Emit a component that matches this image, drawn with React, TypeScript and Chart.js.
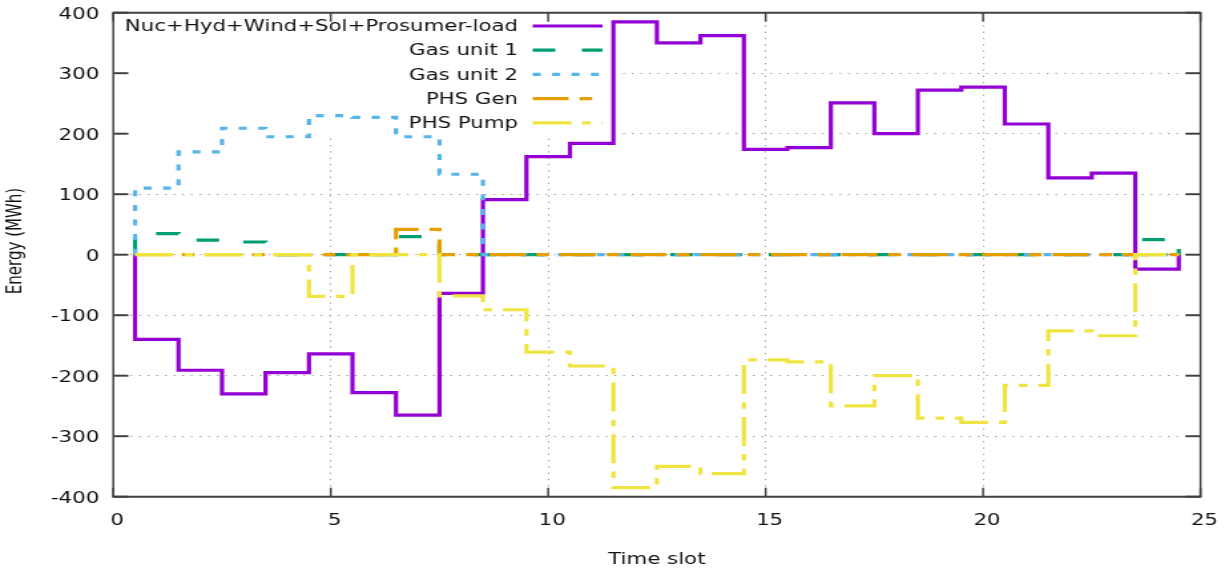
import React, { useEffect, useRef } from 'react';
import { Chart, registerables } from 'chart.js';

Chart.register(...registerables);

// ---------------- data ----------------
const SLOTS = [1, 2, 3, 4, 5, 6, 7, 8, 9, 10, 11, 12, 13, 14, 15, 16, 17, 18, 19, 20, 21, 22, 23, 24];

const NET_LOAD = [-140, -191, -230, -195, -164, -228, -265, -64, 91, 162, 184, 385, 350, 362, 174, 177, 251, 200, 272, 277, 216, 127, 135, -24];
const GAS_UNIT_1 = [35, 24, 21, 0, 0, 0, 30, 0, 0, 0, 0, 0, 0, 0, 0, 0, 0, 0, 0, 0, 0, 0, 0, 25];
const GAS_UNIT_2 = [110, 170, 209, 195, 230, 227, 195, 133, 0, 0, 0, 0, 0, 0, 0, 0, 0, 0, 0, 0, 0, 0, 0, 0];
const PHS_GEN = [0, 0, 0, 0, 0, 0, 42, 0, 0, 0, 0, 0, 0, 0, 0, 0, 0, 0, 0, 0, 0, 0, 0, 0];
const PHS_PUMP = [0, 0, 0, 0, -69, 0, 0, -68, -91, -161, -184, -385, -350, -362, -174, -177, -250, -200, -270, -277, -216, -126, -134, 0];

const SERIES_LABELS = ['Nuc+Hyd+Wind+Sol+Prosumer-load', 'Gas unit 1', 'Gas unit 2', 'PHS Gen', 'PHS Pump'];
const SERIES_COLORS = ['#9400d3', '#009e73', '#56b4e9', '#e69f00', '#f0e442'];

const X_MIN = 0;
const X_MAX = 25;
const X_STEP = 5;
const Y_MIN = -400;
const Y_MAX = 400;
const Y_STEP = 100;

const X_TITLE = 'Time slot';
const Y_TITLE = 'Energy (MWh)';

// ---------------- layout (screen px -> canvas px; canvas is stretched horizontally) ----------------
const SCREEN_W = 1225;
const SCREEN_H = 572;
const CANVAS_W = 921;
const SX = SCREEN_W / CANVAS_W;
const cx = (screenX: number) => screenX / SX;

const FONT = "'DejaVu Sans', Verdana, sans-serif";
const FRAME_COLOR = '#404040';
const GRID_COLOR = '#9a9a9a';

const AREA_LEFT = cx(113.3);
const AREA_RIGHT = cx(1200.5);
const AREA_TOP = 12.7;
const AREA_BOTTOM = 496.7;

const KEY_BOX_RIGHT = cx(619);
const KEY_BOX_BOTTOM = 137;
const KEY_TEXT_RIGHT = cx(518);
const KEY_SAMPLE_X1 = cx(532.7);
const KEY_SAMPLE_X2 = cx(602.5);
const KEY_FIRST_Y = 26;
const KEY_ROW = 24.2;

const Y_TICK_LEN = cx(15);
const X_TICK_LEN = 9;
const LINE_W = 3.2;

const DASHES: number[][] = [
  [],
  [17, 20],
  [6, 8.6],
  [27, 8.2, 9.5, 8.2],
  [29, 8.2, 6.5, 8.2],
];

function histeps(values: number[]) {
  const pts: { x: number; y: number }[] = [{ x: SLOTS[0] - 0.5, y: 0 }];
  values.forEach((v, i) => pts.push({ x: SLOTS[i] - 0.5, y: v }));
  pts.push({ x: SLOTS[SLOTS.length - 1] + 0.5, y: 0 });
  return pts;
}

const decoPlugin = {
  id: 'gnuplotDeco',
  beforeDatasetsDraw(chart: any) {
    const { ctx, chartArea: a } = chart;
    ctx.save();
    ctx.fillStyle = '#ffffff';
    ctx.fillRect(a.left, a.top, KEY_BOX_RIGHT - a.left, KEY_BOX_BOTTOM - a.top);
    ctx.restore();
  },
  afterDatasetsDraw(chart: any) {
    const { ctx, chartArea: a, scales } = chart;
    const xs = scales.x;
    const ys = scales.y;
    const line = (x1: number, y1: number, x2: number, y2: number) => {
      ctx.beginPath();
      ctx.moveTo(x1, y1);
      ctx.lineTo(x2, y2);
      ctx.stroke();
    };
    ctx.save();
    ctx.setLineDash([]);
    ctx.strokeStyle = FRAME_COLOR;
    ctx.lineCap = 'butt';
    // y ticks (inward, mirrored)
    ctx.lineWidth = 2;
    ys.ticks.forEach((t: any) => {
      const py = ys.getPixelForValue(t.value);
      line(a.left, py, a.left + Y_TICK_LEN, py);
      line(a.right - Y_TICK_LEN, py, a.right, py);
    });
    // x ticks (inward, mirrored)
    ctx.lineWidth = 1.5;
    xs.ticks.forEach((t: any) => {
      const px = xs.getPixelForValue(t.value);
      line(px, a.bottom, px, a.bottom - X_TICK_LEN);
      line(px, a.top, px, a.top + X_TICK_LEN);
    });
    // frame
    ctx.lineWidth = 2;
    line(a.left - 0.75, a.top, a.right + 0.75, a.top);
    line(a.left - 0.75, a.bottom, a.right + 0.75, a.bottom);
    ctx.lineWidth = 1.5;
    line(a.left, a.top, a.left, a.bottom);
    line(a.right, a.top, a.right, a.bottom);

    // key
    ctx.font = `16px ${FONT}`;
    ctx.textAlign = 'right';
    ctx.textBaseline = 'middle';
    chart.data.datasets.forEach((ds: any, i: number) => {
      const y = KEY_FIRST_Y + i * KEY_ROW;
      ctx.fillStyle = '#111111';
      ctx.fillText(ds.label, KEY_TEXT_RIGHT, y + 1);
      ctx.strokeStyle = ds.borderColor;
      ctx.lineWidth = LINE_W;
      ctx.setLineDash(ds.borderDash || []);
      line(KEY_SAMPLE_X1, y, KEY_SAMPLE_X2, y);
    });
    ctx.setLineDash([]);

    // y axis title (rotated)
    ctx.translate(cx(21), 241);
    ctx.rotate(-Math.PI / 2);
    ctx.font = `15px ${FONT}`;
    ctx.textAlign = 'center';
    ctx.textBaseline = 'alphabetic';
    ctx.fillStyle = '#111111';
    ctx.fillText(Y_TITLE, 0, 0);
    ctx.restore();
  },
};

export default function App() {
  const ref = useRef<HTMLCanvasElement>(null);

  useEffect(() => {
    document.body.style.margin = '0';
    const canvas = ref.current;
    if (!canvas) return;
    const seriesValues = [NET_LOAD, GAS_UNIT_1, GAS_UNIT_2, PHS_GEN, PHS_PUMP];
    const datasets = seriesValues.map((vals, i) => ({
      label: SERIES_LABELS[i],
      data: histeps(vals),
      borderColor: SERIES_COLORS[i],
      backgroundColor: SERIES_COLORS[i],
      borderWidth: LINE_W,
      borderDash: DASHES[i],
      borderCapStyle: 'butt' as const,
      borderJoinStyle: 'miter' as const,
      pointRadius: 0,
      pointHoverRadius: 0,
      stepped: 'before' as const,
      fill: false,
      order: seriesValues.length - i,
    }));

    const chart = new Chart(canvas, {
      type: 'line',
      data: { datasets },
      plugins: [decoPlugin],
      options: {
        animation: false,
        responsive: false,
        devicePixelRatio: 1,
        events: [],
        layout: { padding: { top: AREA_TOP, right: CANVAS_W - AREA_RIGHT, left: 0, bottom: 0 } },
        plugins: {
          legend: { display: false },
          tooltip: { enabled: false },
        },
        scales: {
          x: {
            type: 'linear',
            min: X_MIN,
            max: X_MAX,
            ticks: {
              stepSize: X_STEP,
              padding: 15,
              labelOffset: 3,
              maxRotation: 0,
              color: '#111111',
              font: { family: FONT, size: 16 },
            },
            grid: { color: GRID_COLOR, lineWidth: 1, drawTicks: false },
            border: { display: false, dash: [1.3, 5] },
            title: {
              display: true,
              text: X_TITLE,
              color: '#111111',
              font: { family: FONT, size: 16 },
              padding: { top: 0, bottom: 3 },
            },
            afterFit: (s: any) => {
              s.height = SCREEN_H - AREA_BOTTOM;
              s.paddingLeft = 0;
              s.paddingRight = 0;
            },
          },
          y: {
            type: 'linear',
            min: Y_MIN,
            max: Y_MAX,
            ticks: {
              stepSize: Y_STEP,
              padding: cx(113.3 - 99.3),
              labelOffset: 2,
              color: '#111111',
              font: { family: FONT, size: 16 },
            },
            grid: { color: GRID_COLOR, lineWidth: 1, drawTicks: false },
            border: { display: false, dash: [1.3, 5.2] },
            afterFit: (s: any) => {
              s.width = AREA_LEFT;
              s.paddingTop = 0;
              s.paddingBottom = 0;
            },
          },
        },
      },
    });
    return () => chart.destroy();
  }, []);

  return (
    <canvas
      ref={ref}
      width={CANVAS_W}
      height={SCREEN_H}
      style={{ display: 'block', width: `${SCREEN_W}px`, height: `${SCREEN_H}px` }}
    />
  );
}
